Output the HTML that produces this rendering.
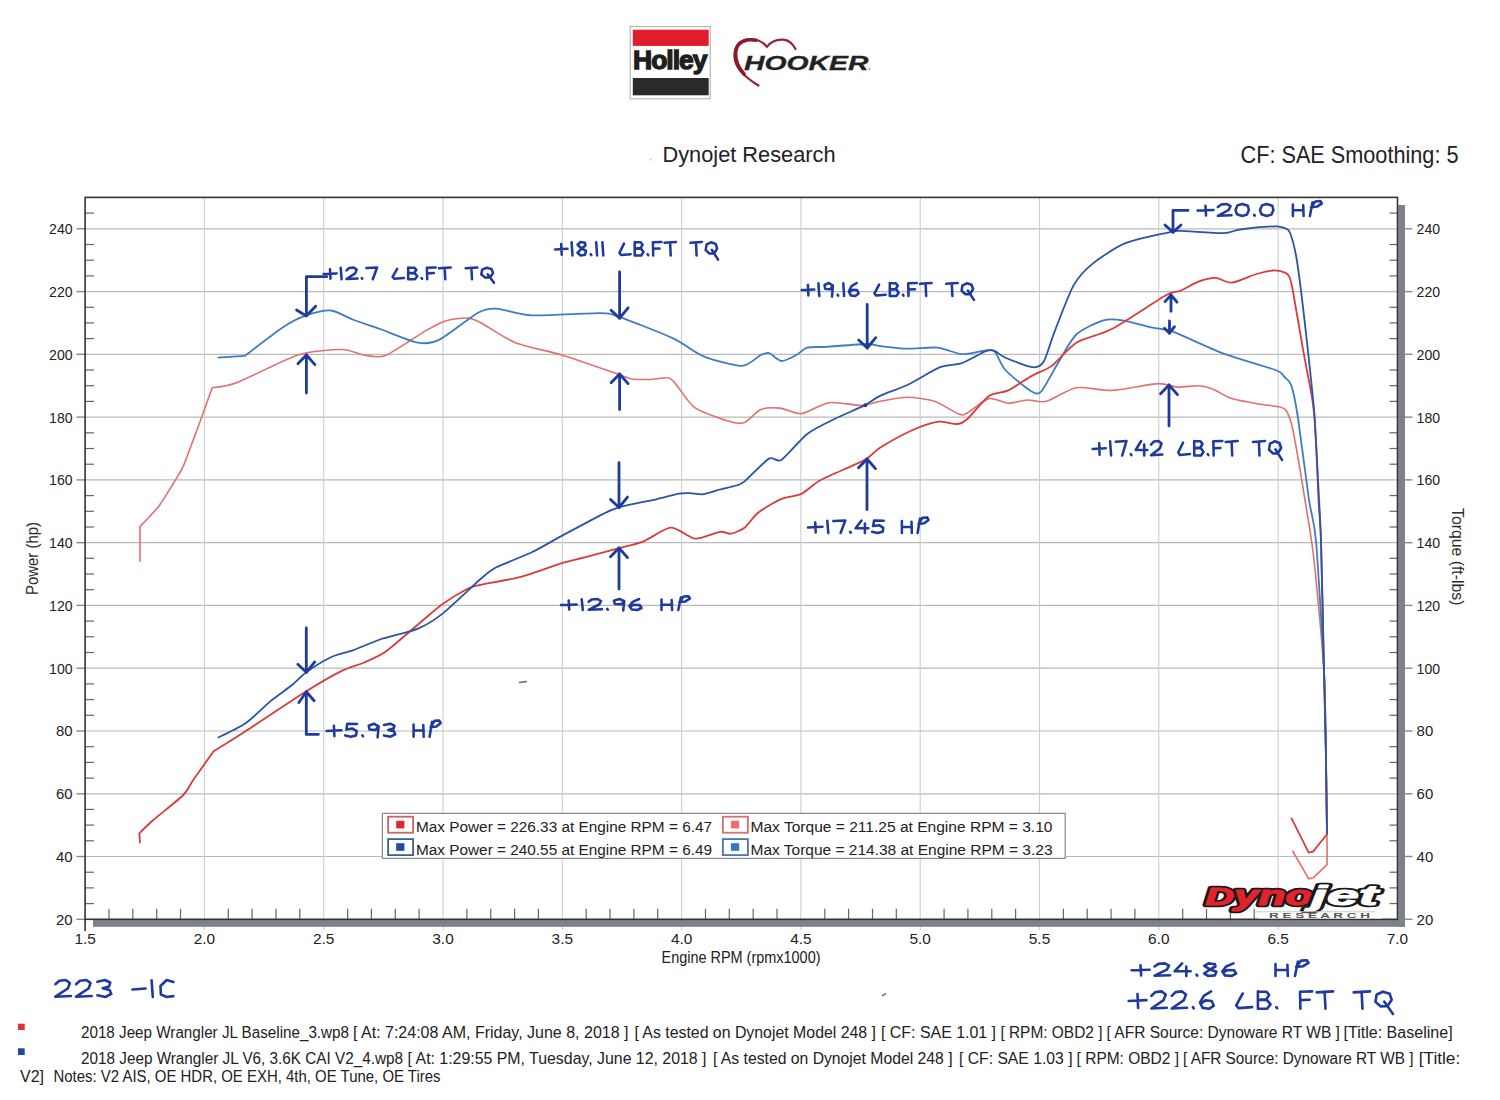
<!DOCTYPE html>
<html><head><meta charset="utf-8">
<style>
html,body{margin:0;padding:0;background:#fff;}
body{width:1500px;height:1100px;overflow:hidden;position:relative;}
svg{position:absolute;left:0;top:0;}
text{font-family:"Liberation Sans",sans-serif;}
</style></head><body>
<svg width="1500" height="1100" viewBox="0 0 1500 1100">
<rect x="630.2" y="26.5" width="80" height="72.3" fill="#fff" stroke="#b0b0b0" stroke-width="1.1"/>
<rect x="632.8" y="29.7" width="75.9" height="16.2" fill="#e11d2b"/>
<rect x="632.8" y="78" width="75.9" height="17.3" fill="#2b2929"/>
<text x="633.0" y="68.7" font-size="26.5" fill="#1e1e1e" textLength="73.5" lengthAdjust="spacingAndGlyphs" font-weight="bold" stroke="#1e1e1e" stroke-width="1.3" letter-spacing="-1">Holley</text>
<path d="M758.5,85.5 C746,78 735,68 734.5,57 C734,46 740,40 749,39.3 C757,38.8 763,42 767,46.8 C771,41.5 777,39.2 783,39.6 C789,40 793,44 795.5,49" fill="none" stroke="#a02033" stroke-width="2.2" stroke-linecap="round"/>
<path d="M744,74 C737.5,67 735.3,60 735.6,53 C736,46 740,41.5 747,40 C750,39.5 753,39.6 756,40.2" fill="none" stroke="#8d1a2a" stroke-width="3.6" stroke-linecap="round"/>
<text x="744.0" y="70.0" font-size="20" fill="#222" textLength="124.5" lengthAdjust="spacingAndGlyphs" font-weight="bold" font-style="italic" stroke="#222" stroke-width="0.3">HOOKER</text>
<circle cx="869.5" cy="69" r="0.8" fill="#555"/>
<text x="662.5" y="162.3" font-size="22.4" fill="#222" textLength="173.0" lengthAdjust="spacingAndGlyphs" >Dynojet Research</text>
<text x="1240.5" y="162.5" font-size="23.2" fill="#222" textLength="218.0" lengthAdjust="spacingAndGlyphs" >CF: SAE Smoothing: 5</text>
<circle cx="650.5" cy="159.5" r="0.9" fill="#9cc"/>
<line x1="85.1" y1="856.5" x2="1397.5" y2="856.5" stroke="#bababa" stroke-width="1.2"/>
<line x1="85.1" y1="793.8" x2="1397.5" y2="793.8" stroke="#bababa" stroke-width="1.2"/>
<line x1="85.1" y1="731.0" x2="1397.5" y2="731.0" stroke="#bababa" stroke-width="1.2"/>
<line x1="85.1" y1="668.2" x2="1397.5" y2="668.2" stroke="#bababa" stroke-width="1.2"/>
<line x1="85.1" y1="605.4" x2="1397.5" y2="605.4" stroke="#bababa" stroke-width="1.2"/>
<line x1="85.1" y1="542.7" x2="1397.5" y2="542.7" stroke="#bababa" stroke-width="1.2"/>
<line x1="85.1" y1="479.9" x2="1397.5" y2="479.9" stroke="#bababa" stroke-width="1.2"/>
<line x1="85.1" y1="417.1" x2="1397.5" y2="417.1" stroke="#bababa" stroke-width="1.2"/>
<line x1="85.1" y1="354.3" x2="1397.5" y2="354.3" stroke="#bababa" stroke-width="1.2"/>
<line x1="85.1" y1="291.6" x2="1397.5" y2="291.6" stroke="#bababa" stroke-width="1.2"/>
<line x1="85.1" y1="228.8" x2="1397.5" y2="228.8" stroke="#bababa" stroke-width="1.2"/>
<line x1="204.4" y1="197.4" x2="204.4" y2="930" stroke="#cdcdcd" stroke-width="1.1"/>
<line x1="323.7" y1="197.4" x2="323.7" y2="930" stroke="#cdcdcd" stroke-width="1.1"/>
<line x1="443.0" y1="197.4" x2="443.0" y2="930" stroke="#cdcdcd" stroke-width="1.1"/>
<line x1="562.3" y1="197.4" x2="562.3" y2="930" stroke="#cdcdcd" stroke-width="1.1"/>
<line x1="681.6" y1="197.4" x2="681.6" y2="930" stroke="#cdcdcd" stroke-width="1.1"/>
<line x1="800.9" y1="197.4" x2="800.9" y2="930" stroke="#cdcdcd" stroke-width="1.1"/>
<line x1="920.2" y1="197.4" x2="920.2" y2="930" stroke="#cdcdcd" stroke-width="1.1"/>
<line x1="1039.5" y1="197.4" x2="1039.5" y2="930" stroke="#cdcdcd" stroke-width="1.1"/>
<line x1="1158.8" y1="197.4" x2="1158.8" y2="930" stroke="#cdcdcd" stroke-width="1.1"/>
<line x1="1278.1" y1="197.4" x2="1278.1" y2="930" stroke="#cdcdcd" stroke-width="1.1"/>
<line x1="76.4" y1="919.3" x2="85.1" y2="919.3" stroke="#8a8a8a" stroke-width="1.4"/>
<line x1="1397.5" y1="919.3" x2="1412.5" y2="919.3" stroke="#8a8a8a" stroke-width="1.4"/>
<line x1="76.4" y1="856.5" x2="85.1" y2="856.5" stroke="#8a8a8a" stroke-width="1.4"/>
<line x1="1397.5" y1="856.5" x2="1412.5" y2="856.5" stroke="#8a8a8a" stroke-width="1.4"/>
<line x1="76.4" y1="793.8" x2="85.1" y2="793.8" stroke="#8a8a8a" stroke-width="1.4"/>
<line x1="1397.5" y1="793.8" x2="1412.5" y2="793.8" stroke="#8a8a8a" stroke-width="1.4"/>
<line x1="76.4" y1="731.0" x2="85.1" y2="731.0" stroke="#8a8a8a" stroke-width="1.4"/>
<line x1="1397.5" y1="731.0" x2="1412.5" y2="731.0" stroke="#8a8a8a" stroke-width="1.4"/>
<line x1="76.4" y1="668.2" x2="85.1" y2="668.2" stroke="#8a8a8a" stroke-width="1.4"/>
<line x1="1397.5" y1="668.2" x2="1412.5" y2="668.2" stroke="#8a8a8a" stroke-width="1.4"/>
<line x1="76.4" y1="605.4" x2="85.1" y2="605.4" stroke="#8a8a8a" stroke-width="1.4"/>
<line x1="1397.5" y1="605.4" x2="1412.5" y2="605.4" stroke="#8a8a8a" stroke-width="1.4"/>
<line x1="76.4" y1="542.7" x2="85.1" y2="542.7" stroke="#8a8a8a" stroke-width="1.4"/>
<line x1="1397.5" y1="542.7" x2="1412.5" y2="542.7" stroke="#8a8a8a" stroke-width="1.4"/>
<line x1="76.4" y1="479.9" x2="85.1" y2="479.9" stroke="#8a8a8a" stroke-width="1.4"/>
<line x1="1397.5" y1="479.9" x2="1412.5" y2="479.9" stroke="#8a8a8a" stroke-width="1.4"/>
<line x1="76.4" y1="417.1" x2="85.1" y2="417.1" stroke="#8a8a8a" stroke-width="1.4"/>
<line x1="1397.5" y1="417.1" x2="1412.5" y2="417.1" stroke="#8a8a8a" stroke-width="1.4"/>
<line x1="76.4" y1="354.3" x2="85.1" y2="354.3" stroke="#8a8a8a" stroke-width="1.4"/>
<line x1="1397.5" y1="354.3" x2="1412.5" y2="354.3" stroke="#8a8a8a" stroke-width="1.4"/>
<line x1="76.4" y1="291.6" x2="85.1" y2="291.6" stroke="#8a8a8a" stroke-width="1.4"/>
<line x1="1397.5" y1="291.6" x2="1412.5" y2="291.6" stroke="#8a8a8a" stroke-width="1.4"/>
<line x1="76.4" y1="228.8" x2="85.1" y2="228.8" stroke="#8a8a8a" stroke-width="1.4"/>
<line x1="1397.5" y1="228.8" x2="1412.5" y2="228.8" stroke="#8a8a8a" stroke-width="1.4"/>
<line x1="85.1" y1="903.6" x2="94" y2="903.6" stroke="#666" stroke-width="1.2"/>
<line x1="1389.5" y1="903.6" x2="1397.5" y2="903.6" stroke="#666" stroke-width="1.2"/>
<line x1="85.1" y1="887.9" x2="94" y2="887.9" stroke="#666" stroke-width="1.2"/>
<line x1="1389.5" y1="887.9" x2="1397.5" y2="887.9" stroke="#666" stroke-width="1.2"/>
<line x1="85.1" y1="872.2" x2="94" y2="872.2" stroke="#666" stroke-width="1.2"/>
<line x1="1389.5" y1="872.2" x2="1397.5" y2="872.2" stroke="#666" stroke-width="1.2"/>
<line x1="85.1" y1="840.8" x2="94" y2="840.8" stroke="#666" stroke-width="1.2"/>
<line x1="1389.5" y1="840.8" x2="1397.5" y2="840.8" stroke="#666" stroke-width="1.2"/>
<line x1="85.1" y1="825.1" x2="94" y2="825.1" stroke="#666" stroke-width="1.2"/>
<line x1="1389.5" y1="825.1" x2="1397.5" y2="825.1" stroke="#666" stroke-width="1.2"/>
<line x1="85.1" y1="809.4" x2="94" y2="809.4" stroke="#666" stroke-width="1.2"/>
<line x1="1389.5" y1="809.4" x2="1397.5" y2="809.4" stroke="#666" stroke-width="1.2"/>
<line x1="85.1" y1="778.1" x2="94" y2="778.1" stroke="#666" stroke-width="1.2"/>
<line x1="1389.5" y1="778.1" x2="1397.5" y2="778.1" stroke="#666" stroke-width="1.2"/>
<line x1="85.1" y1="762.4" x2="94" y2="762.4" stroke="#666" stroke-width="1.2"/>
<line x1="1389.5" y1="762.4" x2="1397.5" y2="762.4" stroke="#666" stroke-width="1.2"/>
<line x1="85.1" y1="746.7" x2="94" y2="746.7" stroke="#666" stroke-width="1.2"/>
<line x1="1389.5" y1="746.7" x2="1397.5" y2="746.7" stroke="#666" stroke-width="1.2"/>
<line x1="85.1" y1="715.3" x2="94" y2="715.3" stroke="#666" stroke-width="1.2"/>
<line x1="1389.5" y1="715.3" x2="1397.5" y2="715.3" stroke="#666" stroke-width="1.2"/>
<line x1="85.1" y1="699.6" x2="94" y2="699.6" stroke="#666" stroke-width="1.2"/>
<line x1="1389.5" y1="699.6" x2="1397.5" y2="699.6" stroke="#666" stroke-width="1.2"/>
<line x1="85.1" y1="683.9" x2="94" y2="683.9" stroke="#666" stroke-width="1.2"/>
<line x1="1389.5" y1="683.9" x2="1397.5" y2="683.9" stroke="#666" stroke-width="1.2"/>
<line x1="85.1" y1="652.5" x2="94" y2="652.5" stroke="#666" stroke-width="1.2"/>
<line x1="1389.5" y1="652.5" x2="1397.5" y2="652.5" stroke="#666" stroke-width="1.2"/>
<line x1="85.1" y1="636.8" x2="94" y2="636.8" stroke="#666" stroke-width="1.2"/>
<line x1="1389.5" y1="636.8" x2="1397.5" y2="636.8" stroke="#666" stroke-width="1.2"/>
<line x1="85.1" y1="621.1" x2="94" y2="621.1" stroke="#666" stroke-width="1.2"/>
<line x1="1389.5" y1="621.1" x2="1397.5" y2="621.1" stroke="#666" stroke-width="1.2"/>
<line x1="85.1" y1="589.7" x2="94" y2="589.7" stroke="#666" stroke-width="1.2"/>
<line x1="1389.5" y1="589.7" x2="1397.5" y2="589.7" stroke="#666" stroke-width="1.2"/>
<line x1="85.1" y1="574.0" x2="94" y2="574.0" stroke="#666" stroke-width="1.2"/>
<line x1="1389.5" y1="574.0" x2="1397.5" y2="574.0" stroke="#666" stroke-width="1.2"/>
<line x1="85.1" y1="558.3" x2="94" y2="558.3" stroke="#666" stroke-width="1.2"/>
<line x1="1389.5" y1="558.3" x2="1397.5" y2="558.3" stroke="#666" stroke-width="1.2"/>
<line x1="85.1" y1="527.0" x2="94" y2="527.0" stroke="#666" stroke-width="1.2"/>
<line x1="1389.5" y1="527.0" x2="1397.5" y2="527.0" stroke="#666" stroke-width="1.2"/>
<line x1="85.1" y1="511.3" x2="94" y2="511.3" stroke="#666" stroke-width="1.2"/>
<line x1="1389.5" y1="511.3" x2="1397.5" y2="511.3" stroke="#666" stroke-width="1.2"/>
<line x1="85.1" y1="495.6" x2="94" y2="495.6" stroke="#666" stroke-width="1.2"/>
<line x1="1389.5" y1="495.6" x2="1397.5" y2="495.6" stroke="#666" stroke-width="1.2"/>
<line x1="85.1" y1="464.2" x2="94" y2="464.2" stroke="#666" stroke-width="1.2"/>
<line x1="1389.5" y1="464.2" x2="1397.5" y2="464.2" stroke="#666" stroke-width="1.2"/>
<line x1="85.1" y1="448.5" x2="94" y2="448.5" stroke="#666" stroke-width="1.2"/>
<line x1="1389.5" y1="448.5" x2="1397.5" y2="448.5" stroke="#666" stroke-width="1.2"/>
<line x1="85.1" y1="432.8" x2="94" y2="432.8" stroke="#666" stroke-width="1.2"/>
<line x1="1389.5" y1="432.8" x2="1397.5" y2="432.8" stroke="#666" stroke-width="1.2"/>
<line x1="85.1" y1="401.4" x2="94" y2="401.4" stroke="#666" stroke-width="1.2"/>
<line x1="1389.5" y1="401.4" x2="1397.5" y2="401.4" stroke="#666" stroke-width="1.2"/>
<line x1="85.1" y1="385.7" x2="94" y2="385.7" stroke="#666" stroke-width="1.2"/>
<line x1="1389.5" y1="385.7" x2="1397.5" y2="385.7" stroke="#666" stroke-width="1.2"/>
<line x1="85.1" y1="370.0" x2="94" y2="370.0" stroke="#666" stroke-width="1.2"/>
<line x1="1389.5" y1="370.0" x2="1397.5" y2="370.0" stroke="#666" stroke-width="1.2"/>
<line x1="85.1" y1="338.6" x2="94" y2="338.6" stroke="#666" stroke-width="1.2"/>
<line x1="1389.5" y1="338.6" x2="1397.5" y2="338.6" stroke="#666" stroke-width="1.2"/>
<line x1="85.1" y1="322.9" x2="94" y2="322.9" stroke="#666" stroke-width="1.2"/>
<line x1="1389.5" y1="322.9" x2="1397.5" y2="322.9" stroke="#666" stroke-width="1.2"/>
<line x1="85.1" y1="307.3" x2="94" y2="307.3" stroke="#666" stroke-width="1.2"/>
<line x1="1389.5" y1="307.3" x2="1397.5" y2="307.3" stroke="#666" stroke-width="1.2"/>
<line x1="85.1" y1="275.9" x2="94" y2="275.9" stroke="#666" stroke-width="1.2"/>
<line x1="1389.5" y1="275.9" x2="1397.5" y2="275.9" stroke="#666" stroke-width="1.2"/>
<line x1="85.1" y1="260.2" x2="94" y2="260.2" stroke="#666" stroke-width="1.2"/>
<line x1="1389.5" y1="260.2" x2="1397.5" y2="260.2" stroke="#666" stroke-width="1.2"/>
<line x1="85.1" y1="244.5" x2="94" y2="244.5" stroke="#666" stroke-width="1.2"/>
<line x1="1389.5" y1="244.5" x2="1397.5" y2="244.5" stroke="#666" stroke-width="1.2"/>
<line x1="85.1" y1="213.1" x2="94" y2="213.1" stroke="#666" stroke-width="1.2"/>
<line x1="1389.5" y1="213.1" x2="1397.5" y2="213.1" stroke="#666" stroke-width="1.2"/>
<line x1="109.0" y1="908.8" x2="109.0" y2="919.3" stroke="#666" stroke-width="1.2"/>
<line x1="132.8" y1="908.8" x2="132.8" y2="919.3" stroke="#666" stroke-width="1.2"/>
<line x1="156.7" y1="908.8" x2="156.7" y2="919.3" stroke="#666" stroke-width="1.2"/>
<line x1="180.5" y1="908.8" x2="180.5" y2="919.3" stroke="#666" stroke-width="1.2"/>
<line x1="228.3" y1="908.8" x2="228.3" y2="919.3" stroke="#666" stroke-width="1.2"/>
<line x1="252.1" y1="908.8" x2="252.1" y2="919.3" stroke="#666" stroke-width="1.2"/>
<line x1="276.0" y1="908.8" x2="276.0" y2="919.3" stroke="#666" stroke-width="1.2"/>
<line x1="299.8" y1="908.8" x2="299.8" y2="919.3" stroke="#666" stroke-width="1.2"/>
<line x1="347.6" y1="908.8" x2="347.6" y2="919.3" stroke="#666" stroke-width="1.2"/>
<line x1="371.4" y1="908.8" x2="371.4" y2="919.3" stroke="#666" stroke-width="1.2"/>
<line x1="395.3" y1="908.8" x2="395.3" y2="919.3" stroke="#666" stroke-width="1.2"/>
<line x1="419.1" y1="908.8" x2="419.1" y2="919.3" stroke="#666" stroke-width="1.2"/>
<line x1="466.9" y1="908.8" x2="466.9" y2="919.3" stroke="#666" stroke-width="1.2"/>
<line x1="490.7" y1="908.8" x2="490.7" y2="919.3" stroke="#666" stroke-width="1.2"/>
<line x1="514.6" y1="908.8" x2="514.6" y2="919.3" stroke="#666" stroke-width="1.2"/>
<line x1="538.4" y1="908.8" x2="538.4" y2="919.3" stroke="#666" stroke-width="1.2"/>
<line x1="586.2" y1="908.8" x2="586.2" y2="919.3" stroke="#666" stroke-width="1.2"/>
<line x1="610.0" y1="908.8" x2="610.0" y2="919.3" stroke="#666" stroke-width="1.2"/>
<line x1="633.9" y1="908.8" x2="633.9" y2="919.3" stroke="#666" stroke-width="1.2"/>
<line x1="657.7" y1="908.8" x2="657.7" y2="919.3" stroke="#666" stroke-width="1.2"/>
<line x1="705.5" y1="908.8" x2="705.5" y2="919.3" stroke="#666" stroke-width="1.2"/>
<line x1="729.3" y1="908.8" x2="729.3" y2="919.3" stroke="#666" stroke-width="1.2"/>
<line x1="753.2" y1="908.8" x2="753.2" y2="919.3" stroke="#666" stroke-width="1.2"/>
<line x1="777.0" y1="908.8" x2="777.0" y2="919.3" stroke="#666" stroke-width="1.2"/>
<line x1="824.8" y1="908.8" x2="824.8" y2="919.3" stroke="#666" stroke-width="1.2"/>
<line x1="848.6" y1="908.8" x2="848.6" y2="919.3" stroke="#666" stroke-width="1.2"/>
<line x1="872.5" y1="908.8" x2="872.5" y2="919.3" stroke="#666" stroke-width="1.2"/>
<line x1="896.3" y1="908.8" x2="896.3" y2="919.3" stroke="#666" stroke-width="1.2"/>
<line x1="944.1" y1="908.8" x2="944.1" y2="919.3" stroke="#666" stroke-width="1.2"/>
<line x1="967.9" y1="908.8" x2="967.9" y2="919.3" stroke="#666" stroke-width="1.2"/>
<line x1="991.8" y1="908.8" x2="991.8" y2="919.3" stroke="#666" stroke-width="1.2"/>
<line x1="1015.6" y1="908.8" x2="1015.6" y2="919.3" stroke="#666" stroke-width="1.2"/>
<line x1="1063.4" y1="908.8" x2="1063.4" y2="919.3" stroke="#666" stroke-width="1.2"/>
<line x1="1087.2" y1="908.8" x2="1087.2" y2="919.3" stroke="#666" stroke-width="1.2"/>
<line x1="1111.1" y1="908.8" x2="1111.1" y2="919.3" stroke="#666" stroke-width="1.2"/>
<line x1="1134.9" y1="908.8" x2="1134.9" y2="919.3" stroke="#666" stroke-width="1.2"/>
<line x1="1182.7" y1="908.8" x2="1182.7" y2="919.3" stroke="#666" stroke-width="1.2"/>
<line x1="1206.5" y1="908.8" x2="1206.5" y2="919.3" stroke="#666" stroke-width="1.2"/>
<line x1="1230.4" y1="908.8" x2="1230.4" y2="919.3" stroke="#666" stroke-width="1.2"/>
<line x1="1254.2" y1="908.8" x2="1254.2" y2="919.3" stroke="#666" stroke-width="1.2"/>
<line x1="1302.0" y1="908.8" x2="1302.0" y2="919.3" stroke="#666" stroke-width="1.2"/>
<line x1="1325.8" y1="908.8" x2="1325.8" y2="919.3" stroke="#666" stroke-width="1.2"/>
<line x1="1349.7" y1="908.8" x2="1349.7" y2="919.3" stroke="#666" stroke-width="1.2"/>
<line x1="1373.5" y1="908.8" x2="1373.5" y2="919.3" stroke="#666" stroke-width="1.2"/>
<rect x="93" y="920" width="1312" height="6.8" fill="#7c818b"/>
<rect x="1398.2" y="205" width="6.8" height="721.8" fill="#7c818b"/>
<rect x="85.1" y="197.4" width="1312.4" height="721.9" fill="none" stroke="#333" stroke-width="1.6"/>
<line x1="85.1" y1="919.3" x2="85.1" y2="931" stroke="#333" stroke-width="1.6"/>
<text x="56.0" y="924.7" font-size="15.4" fill="#222" textLength="16.6" lengthAdjust="spacingAndGlyphs" >20</text>
<text x="1416.6" y="924.7" font-size="15.4" fill="#222" textLength="16.6" lengthAdjust="spacingAndGlyphs" >20</text>
<text x="56.0" y="861.9" font-size="15.4" fill="#222" textLength="16.6" lengthAdjust="spacingAndGlyphs" >40</text>
<text x="1416.6" y="861.9" font-size="15.4" fill="#222" textLength="16.6" lengthAdjust="spacingAndGlyphs" >40</text>
<text x="56.0" y="799.2" font-size="15.4" fill="#222" textLength="16.6" lengthAdjust="spacingAndGlyphs" >60</text>
<text x="1416.6" y="799.2" font-size="15.4" fill="#222" textLength="16.6" lengthAdjust="spacingAndGlyphs" >60</text>
<text x="56.0" y="736.4" font-size="15.4" fill="#222" textLength="16.6" lengthAdjust="spacingAndGlyphs" >80</text>
<text x="1416.6" y="736.4" font-size="15.4" fill="#222" textLength="16.6" lengthAdjust="spacingAndGlyphs" >80</text>
<text x="49.1" y="673.6" font-size="15.4" fill="#222" textLength="23.5" lengthAdjust="spacingAndGlyphs" >100</text>
<text x="1416.6" y="673.6" font-size="15.4" fill="#222" textLength="23.5" lengthAdjust="spacingAndGlyphs" >100</text>
<text x="49.1" y="610.8" font-size="15.4" fill="#222" textLength="23.5" lengthAdjust="spacingAndGlyphs" >120</text>
<text x="1416.6" y="610.8" font-size="15.4" fill="#222" textLength="23.5" lengthAdjust="spacingAndGlyphs" >120</text>
<text x="49.1" y="548.1" font-size="15.4" fill="#222" textLength="23.5" lengthAdjust="spacingAndGlyphs" >140</text>
<text x="1416.6" y="548.1" font-size="15.4" fill="#222" textLength="23.5" lengthAdjust="spacingAndGlyphs" >140</text>
<text x="49.1" y="485.3" font-size="15.4" fill="#222" textLength="23.5" lengthAdjust="spacingAndGlyphs" >160</text>
<text x="1416.6" y="485.3" font-size="15.4" fill="#222" textLength="23.5" lengthAdjust="spacingAndGlyphs" >160</text>
<text x="49.1" y="422.5" font-size="15.4" fill="#222" textLength="23.5" lengthAdjust="spacingAndGlyphs" >180</text>
<text x="1416.6" y="422.5" font-size="15.4" fill="#222" textLength="23.5" lengthAdjust="spacingAndGlyphs" >180</text>
<text x="49.1" y="359.7" font-size="15.4" fill="#222" textLength="23.5" lengthAdjust="spacingAndGlyphs" >200</text>
<text x="1416.6" y="359.7" font-size="15.4" fill="#222" textLength="23.5" lengthAdjust="spacingAndGlyphs" >200</text>
<text x="49.1" y="297.0" font-size="15.4" fill="#222" textLength="23.5" lengthAdjust="spacingAndGlyphs" >220</text>
<text x="1416.6" y="297.0" font-size="15.4" fill="#222" textLength="23.5" lengthAdjust="spacingAndGlyphs" >220</text>
<text x="49.1" y="234.2" font-size="15.4" fill="#222" textLength="23.5" lengthAdjust="spacingAndGlyphs" >240</text>
<text x="1416.6" y="234.2" font-size="15.4" fill="#222" textLength="23.5" lengthAdjust="spacingAndGlyphs" >240</text>
<text x="85.1" y="944.3" font-size="15.4" fill="#222" text-anchor="middle" >1.5</text>
<text x="204.4" y="944.3" font-size="15.4" fill="#222" text-anchor="middle" >2.0</text>
<text x="323.7" y="944.3" font-size="15.4" fill="#222" text-anchor="middle" >2.5</text>
<text x="443.0" y="944.3" font-size="15.4" fill="#222" text-anchor="middle" >3.0</text>
<text x="562.3" y="944.3" font-size="15.4" fill="#222" text-anchor="middle" >3.5</text>
<text x="681.6" y="944.3" font-size="15.4" fill="#222" text-anchor="middle" >4.0</text>
<text x="800.9" y="944.3" font-size="15.4" fill="#222" text-anchor="middle" >4.5</text>
<text x="920.2" y="944.3" font-size="15.4" fill="#222" text-anchor="middle" >5.0</text>
<text x="1039.5" y="944.3" font-size="15.4" fill="#222" text-anchor="middle" >5.5</text>
<text x="1158.8" y="944.3" font-size="15.4" fill="#222" text-anchor="middle" >6.0</text>
<text x="1278.1" y="944.3" font-size="15.4" fill="#222" text-anchor="middle" >6.5</text>
<text x="1397.4" y="944.3" font-size="15.4" fill="#222" text-anchor="middle" >7.0</text>
<text x="661.5" y="963.2" font-size="15.7" fill="#222" textLength="159.0" lengthAdjust="spacingAndGlyphs" >Engine RPM (rpmx1000)</text>
<text transform="translate(37.7,595) rotate(-90)" x="0" y="0" font-size="16.4" fill="#2b2b2b" textLength="73" lengthAdjust="spacingAndGlyphs">Power (hp)</text>
<text transform="translate(1452,508) rotate(90)" x="0" y="0" font-size="16.4" fill="#2b2b2b" textLength="97.5" lengthAdjust="spacingAndGlyphs">Torque (ft-lbs)</text>
<path d="M140.0,561.8 C140.0,561.8 140.0,526.4 140.0,526.4 C140.0,526.4 154.5,511.8 159.0,505.9 C163.5,500.0 172.3,485.1 175.4,480.0 C178.5,474.9 180.5,472.8 183.6,465.4 C186.7,458.0 196.4,431.6 200.0,421.8 C203.6,412.0 212.2,387.7 212.2,387.7 C212.2,387.7 227.1,386.3 238.0,382.2 C248.9,378.1 284.9,359.1 298.0,355.0 C311.1,350.9 333.5,349.5 341.8,349.5 C350.1,349.5 358.1,354.2 363.6,355.0 C369.1,355.8 377.5,358.6 385.4,355.5 C393.3,352.4 418.7,334.8 426.3,330.4 C433.9,326.0 440.2,322.5 445.4,320.9 C450.6,319.3 462.6,317.8 467.0,318.0 C471.4,318.2 473.9,319.1 480.0,322.2 C486.1,325.3 505.0,338.5 515.4,342.7 C525.8,346.9 548.3,350.9 561.8,355.0 C575.3,359.1 612.9,372.4 621.8,375.4 C630.7,378.4 628.4,378.5 632.0,379.0 C635.6,379.5 645.3,379.6 650.0,379.5 C654.7,379.4 665.5,377.1 669.0,378.0 C672.5,378.9 674.7,383.2 678.0,387.0 C681.3,390.8 688.7,403.7 695.4,408.1 C702.1,412.5 724.6,420.0 730.8,421.8 C737.0,423.6 740.7,424.2 744.5,422.6 C748.3,421.0 756.3,411.3 760.8,409.5 C765.3,407.7 774.8,407.6 780.0,408.1 C785.2,408.6 795.5,414.3 801.7,413.6 C807.9,412.9 821.4,403.7 829.0,402.7 C836.6,401.7 855.2,405.6 861.7,405.4 C868.2,405.2 874.2,402.3 880.0,401.3 C885.8,400.3 900.4,397.2 907.3,397.2 C914.2,397.2 928.0,399.2 934.5,401.3 C941.0,403.4 954.8,412.6 959.0,414.1 C963.2,415.6 963.5,415.0 967.3,413.0 C971.1,411.0 983.8,399.8 989.0,398.6 C994.2,397.4 1003.4,403.0 1008.2,403.2 C1013.0,403.4 1022.4,400.2 1027.2,400.0 C1032.0,399.8 1040.1,402.9 1046.3,401.3 C1052.5,399.7 1068.0,389.1 1076.3,387.7 C1084.6,386.3 1101.4,390.9 1111.8,390.4 C1122.2,389.9 1149.8,384.0 1158.1,383.6 C1166.4,383.2 1172.0,386.8 1177.2,387.1 C1182.4,387.4 1194.5,385.6 1199.0,385.8 C1203.5,386.0 1208.5,387.4 1212.6,389.0 C1216.7,390.6 1225.8,396.7 1231.7,398.6 C1237.6,400.5 1253.1,403.0 1259.0,404.0 C1264.9,405.0 1274.8,406.0 1278.2,406.8 C1281.6,407.6 1284.1,407.2 1285.9,410.0 C1287.7,412.8 1290.3,417.6 1292.7,429.0 C1295.1,440.4 1302.3,483.4 1305.0,500.0 C1307.7,516.6 1311.6,538.3 1314.0,560.0 C1316.4,581.7 1322.5,647.3 1324.0,671.0 C1325.5,694.7 1325.4,726.2 1325.8,747.0 C1326.2,767.8 1326.8,820.1 1327.0,835.0 C1327.2,849.9 1327.0,864.7 1327.0,864.7 C1327.0,864.7 1313.1,877.8 1313.1,877.8 C1313.1,877.8 1308.7,878.9 1308.7,878.9 C1308.7,878.9 1292.4,850.5 1292.4,850.5" fill="none" stroke="#e2706f" stroke-width="1.6" stroke-linejoin="round"/>
<path d="M217.7,357.7 C217.7,357.7 245.0,355.8 245.0,355.8 C245.0,355.8 276.7,331.4 284.5,326.3 C292.3,321.2 300.4,317.4 306.3,315.4 C312.2,313.4 325.0,310.0 330.9,310.5 C336.8,311.0 346.5,317.2 352.7,319.5 C358.9,321.8 371.7,326.1 380.0,329.0 C388.3,331.9 410.4,341.4 418.0,342.7 C425.6,344.0 432.4,343.2 440.0,339.4 C447.6,335.6 470.9,316.6 478.0,312.7 C485.1,308.8 489.6,308.3 496.4,308.6 C503.2,308.9 518.7,314.8 531.8,315.4 C544.9,316.0 589.0,313.0 600.0,313.2 C611.0,313.4 609.7,313.6 619.0,316.8 C628.3,320.0 662.9,333.6 673.6,338.6 C684.3,343.6 695.0,352.8 703.6,356.3 C712.2,359.8 734.6,366.1 741.8,365.9 C749.0,365.7 757.4,356.6 760.8,355.0 C764.2,353.4 766.4,352.2 769.0,353.0 C771.6,353.8 777.8,360.7 781.3,361.0 C784.8,361.3 793.0,356.7 796.3,355.0 C799.6,353.3 803.4,348.6 807.2,347.6 C811.0,346.6 818.7,347.3 826.3,346.8 C833.9,346.3 860.4,344.1 867.2,344.0 C874.0,343.9 874.9,345.4 880.0,346.0 C885.1,346.6 900.0,348.5 907.3,348.7 C914.6,348.9 930.4,346.9 937.3,347.6 C944.2,348.3 955.9,353.7 961.8,354.1 C967.7,354.5 979.5,351.2 983.6,350.9 C987.7,350.6 991.7,349.0 994.5,351.4 C997.3,353.8 1000.9,365.1 1005.4,370.0 C1009.9,374.9 1025.5,387.6 1030.0,390.4 C1034.5,393.2 1037.5,395.1 1040.9,391.8 C1044.3,388.5 1052.7,371.8 1057.2,364.5 C1061.7,357.2 1070.4,340.1 1076.3,334.5 C1082.2,328.9 1097.7,322.1 1103.6,320.3 C1109.5,318.5 1116.5,319.4 1122.7,320.3 C1128.9,321.2 1146.5,326.3 1152.7,327.7 C1158.9,329.1 1162.7,327.9 1171.7,331.2 C1180.7,334.5 1210.5,348.7 1223.6,353.6 C1236.7,358.5 1267.8,367.0 1275.5,370.0 C1283.2,373.0 1282.5,375.0 1284.5,377.0 C1286.5,379.0 1289.6,380.2 1291.3,385.4 C1293.0,390.6 1295.8,403.5 1298.0,418.0 C1300.2,432.5 1306.7,484.4 1309.0,500.0 C1311.3,515.6 1314.1,519.3 1316.0,541.0 C1317.9,562.7 1322.8,644.9 1324.0,671.0 C1325.2,697.1 1325.8,747.0 1325.8,747.0 C1325.8,747.0 1327.0,834.0 1327.0,834.0" fill="none" stroke="#3f7cc0" stroke-width="1.8" stroke-linejoin="round"/>
<path d="M140.0,843.3 C140.0,843.3 139.3,833.3 139.3,833.3 C139.3,833.3 147.7,824.9 153.3,820.0 C158.9,815.1 178.2,800.1 183.3,795.0 C188.4,789.9 189.4,785.5 193.2,780.0 C197.0,774.5 213.6,751.3 213.6,751.3 C213.6,751.3 234.6,738.4 246.3,730.8 C258.0,723.2 294.2,698.9 306.3,691.3 C318.4,683.7 334.5,674.5 341.8,670.9 C349.1,667.3 358.1,665.1 363.6,662.7 C369.1,660.3 378.5,656.6 385.4,651.8 C392.3,647.0 410.8,630.5 418.0,624.5 C425.2,618.5 436.4,608.6 442.6,604.1 C448.8,599.6 462.5,591.4 467.2,589.0 C471.9,586.6 473.2,586.5 480.0,585.0 C486.8,583.5 510.5,579.6 520.9,576.8 C531.3,574.0 553.9,565.6 561.8,563.2 C569.7,560.8 576.4,559.6 583.6,557.7 C590.8,555.8 611.4,550.3 619.0,548.2 C626.6,546.1 637.0,543.9 643.6,541.3 C650.2,538.7 664.3,528.0 670.9,527.7 C677.5,527.4 689.2,538.1 695.4,538.6 C701.6,539.1 715.5,532.4 720.0,531.8 C724.5,531.2 727.7,534.2 730.8,533.7 C733.9,533.2 741.0,530.4 744.5,527.7 C748.0,525.0 753.6,516.3 758.1,512.7 C762.6,509.1 774.5,502.0 780.0,499.6 C785.5,497.2 796.5,496.1 801.7,493.6 C806.9,491.1 812.8,484.3 820.8,480.0 C828.8,475.7 857.0,464.1 864.5,460.0 C872.0,455.9 873.9,451.5 880.0,447.7 C886.1,443.9 905.4,433.3 912.7,430.0 C920.0,426.7 931.6,422.6 937.3,421.8 C943.0,421.0 953.9,424.4 957.7,424.0 C961.5,423.6 963.3,422.6 967.3,419.0 C971.3,415.4 983.8,399.5 989.0,395.9 C994.2,392.3 1002.7,393.0 1008.2,390.4 C1013.7,387.8 1027.2,378.5 1032.7,375.4 C1038.2,372.3 1046.3,370.0 1051.8,365.9 C1057.3,361.8 1068.7,347.4 1076.3,342.7 C1083.9,338.0 1100.4,335.0 1111.8,329.0 C1123.2,323.0 1157.7,299.8 1166.3,295.0 C1174.9,290.2 1175.9,292.6 1180.0,290.9 C1184.1,289.2 1194.5,283.1 1199.0,281.4 C1203.5,279.7 1211.3,277.6 1215.5,277.8 C1219.7,278.0 1226.6,283.2 1231.8,282.7 C1237.0,282.2 1251.2,275.5 1256.4,274.0 C1261.6,272.5 1269.1,270.7 1272.7,270.5 C1276.3,270.3 1282.9,271.8 1285.0,272.6 C1287.1,273.4 1288.5,274.8 1289.5,277.0 C1290.5,279.2 1290.9,280.4 1292.7,290.0 C1294.5,299.6 1301.2,339.3 1303.6,352.7 C1306.0,366.1 1310.4,387.7 1311.8,396.0 C1313.2,404.3 1313.8,408.6 1314.5,418.0 C1315.2,427.4 1316.7,454.4 1317.5,470.0 C1318.3,485.6 1320.2,515.5 1321.0,541.0 C1321.8,566.5 1323.4,644.9 1324.0,671.0 C1324.6,697.1 1325.4,726.3 1325.8,747.0 C1326.2,767.7 1327.0,834.2 1327.0,834.2 C1327.0,834.2 1313.0,851.6 1313.0,851.6 C1313.0,851.6 1308.7,852.7 1308.7,852.7 C1308.7,852.7 1291.3,817.8 1291.3,817.8" fill="none" stroke="#d83c3c" stroke-width="1.8" stroke-linejoin="round"/>
<path d="M217.7,737.7 C217.7,737.7 239.6,727.4 246.3,722.7 C253.0,718.0 265.0,705.7 270.9,700.9 C276.8,696.1 288.2,688.1 292.7,684.5 C297.2,680.9 301.5,675.7 306.3,672.2 C311.1,668.7 325.0,660.0 330.9,657.2 C336.8,654.4 346.5,652.6 352.7,650.4 C358.9,648.2 371.7,642.3 380.0,639.5 C388.3,636.7 410.1,631.9 418.0,628.6 C425.9,625.3 434.7,619.8 442.6,613.6 C450.5,607.4 473.2,585.4 480.0,579.5 C486.8,573.6 489.8,570.7 496.4,567.3 C503.0,563.9 523.5,556.3 531.8,552.3 C540.1,548.3 552.8,540.7 561.8,535.9 C570.8,531.1 595.5,517.7 602.7,514.1 C609.9,510.5 612.1,509.2 619.0,507.3 C625.9,505.4 649.6,500.8 657.2,499.1 C664.8,497.4 674.8,494.4 679.0,493.6 C683.2,492.8 686.9,493.0 690.0,493.1 C693.1,493.2 699.8,494.7 703.6,494.2 C707.4,493.7 715.9,490.6 720.0,489.5 C724.1,488.4 733.2,486.5 736.3,485.5 C739.4,484.5 740.4,484.8 744.5,481.4 C748.6,478.0 764.3,461.3 769.0,458.6 C773.7,455.9 776.5,463.1 781.3,460.0 C786.1,456.9 800.5,439.2 807.2,434.0 C813.9,428.8 827.2,422.6 834.5,419.0 C841.8,415.4 858.7,408.3 864.5,405.4 C870.3,402.5 874.6,398.5 880.0,395.9 C885.4,393.3 899.7,388.6 907.3,385.0 C914.9,381.4 933.1,370.0 940.0,367.2 C946.9,364.4 955.9,365.2 961.8,363.1 C967.7,361.0 982.2,352.4 986.3,350.9 C990.4,349.4 992.1,350.0 994.5,350.9 C996.9,351.8 1000.6,355.6 1005.4,357.7 C1010.2,359.8 1027.9,366.7 1032.7,367.2 C1037.5,367.7 1040.8,366.3 1043.6,361.8 C1046.4,357.3 1050.7,341.5 1054.5,331.8 C1058.3,322.1 1068.8,294.0 1073.6,285.4 C1078.4,276.8 1086.1,268.9 1092.7,263.6 C1099.3,258.3 1115.7,247.2 1125.4,243.2 C1135.1,239.2 1162.1,233.9 1169.0,232.3 C1175.9,230.7 1173.1,230.8 1180.0,230.9 C1186.9,231.0 1216.0,233.3 1223.6,233.1 C1231.2,232.9 1233.4,230.4 1240.0,229.5 C1246.6,228.6 1269.8,226.5 1275.5,226.3 C1281.2,226.1 1283.2,227.4 1285.0,228.2 C1286.8,229.0 1288.5,228.7 1290.0,232.7 C1291.5,236.7 1294.7,246.9 1296.8,260.0 C1298.9,273.1 1304.1,316.3 1306.3,336.0 C1308.5,355.7 1312.9,394.7 1314.5,415.5 C1316.1,436.3 1317.8,484.1 1318.6,500.0 C1319.4,515.9 1320.3,519.3 1321.0,541.0 C1321.7,562.7 1323.4,644.9 1324.0,671.0 C1324.6,697.1 1325.8,747.0 1325.8,747.0 C1325.8,747.0 1327.0,834.0 1327.0,834.0" fill="none" stroke="#2a55a5" stroke-width="1.8" stroke-linejoin="round"/>
<rect x="382.4" y="813.4" width="682.8" height="45" fill="#fff" stroke="#8a8a8a" stroke-width="1.2"/>
<rect x="388.1" y="816.7" width="25" height="16" fill="#fff" stroke="#c96565" stroke-width="1.8"/>
<rect x="396.2" y="820.8" width="8.2" height="7.6" fill="#e02a2a"/>
<rect x="388.1" y="839.1" width="25" height="16" fill="#fff" stroke="#3d5f95" stroke-width="1.8"/>
<rect x="396.2" y="843.2" width="8.2" height="7.6" fill="#1f4aa8"/>
<rect x="722.9" y="816.7" width="25" height="16" fill="#fff" stroke="#d47070" stroke-width="1.8"/>
<rect x="731.0" y="820.8" width="8.2" height="7.6" fill="#ef6a6a"/>
<rect x="722.9" y="839.1" width="25" height="16" fill="#fff" stroke="#4a76b5" stroke-width="1.8"/>
<rect x="731.0" y="843.2" width="8.2" height="7.6" fill="#3476c8"/>
<text x="416.0" y="831.8" font-size="15.4" fill="#222" textLength="296.0" lengthAdjust="spacingAndGlyphs" >Max Power = 226.33 at Engine RPM = 6.47</text>
<text x="416.0" y="855.2" font-size="15.4" fill="#222" textLength="296.0" lengthAdjust="spacingAndGlyphs" >Max Power = 240.55 at Engine RPM = 6.49</text>
<text x="750.5" y="831.8" font-size="15.4" fill="#222" textLength="302.0" lengthAdjust="spacingAndGlyphs" >Max Torque = 211.25 at Engine RPM = 3.10</text>
<text x="750.5" y="855.2" font-size="15.4" fill="#222" textLength="302.0" lengthAdjust="spacingAndGlyphs" >Max Torque = 214.38 at Engine RPM = 3.23</text>
<rect x="1258" y="903" width="124" height="15.5" fill="#fff"/>
<text x="1205.5" y="905" font-weight="bold" font-style="italic" fill="#1a1a1a" stroke="#1a1a1a" stroke-width="4.6" stroke-linejoin="round" textLength="107" lengthAdjust="spacingAndGlyphs"><tspan font-size="24">D</tspan><tspan font-size="27">yno</tspan></text>
<text x="1205.5" y="905" font-weight="bold" font-style="italic" fill="#e3232b" stroke="#e3232b" stroke-width="1.2" stroke-linejoin="round" textLength="107" lengthAdjust="spacingAndGlyphs"><tspan font-size="24">D</tspan><tspan font-size="27">yno</tspan></text>
<text x="1311" y="905" font-weight="bold" font-style="italic" fill="#1a1a1a" stroke="#1a1a1a" stroke-width="4.6" stroke-linejoin="round" textLength="67" lengthAdjust="spacingAndGlyphs" font-size="27">jet</text>
<text x="1311" y="905" font-weight="bold" font-style="italic" fill="#fff" stroke="#fff" stroke-width="1.0" stroke-linejoin="round" textLength="67" lengthAdjust="spacingAndGlyphs" font-size="27">jet</text>
<line x1="1256" y1="911.8" x2="1375" y2="911.8" stroke="#c8c8c8" stroke-width="1"/>
<text x="1269.0" y="918.2" font-size="6.5" fill="#555" textLength="101.0" lengthAdjust="spacingAndGlyphs" font-weight="bold">R E S E A R C H</text>
<rect x="18" y="1023.7" width="6.7" height="6.3" fill="#e03030"/>
<rect x="18" y="1048.3" width="6.7" height="6.7" fill="#2048a0"/>
<text x="81.0" y="1038.3" font-size="16" fill="#222" textLength="268.0" lengthAdjust="spacingAndGlyphs" >2018 Jeep Wrangler JL Baseline_3.wp8</text>
<text x="353.0" y="1038.3" font-size="16" fill="#222" textLength="275.5" lengthAdjust="spacingAndGlyphs" >[ At: 7:24:08 AM, Friday, June 8, 2018 ]</text>
<text x="634.4" y="1038.3" font-size="16" fill="#222" textLength="241.6" lengthAdjust="spacingAndGlyphs" >[ As tested on Dynojet Model 248 ]</text>
<text x="881.0" y="1038.3" font-size="16" fill="#222" textLength="115.0" lengthAdjust="spacingAndGlyphs" >[ CF: SAE 1.01 ]</text>
<text x="1000.4" y="1038.3" font-size="16" fill="#222" textLength="102.1" lengthAdjust="spacingAndGlyphs" >[ RPM: OBD2 ]</text>
<text x="1106.6" y="1038.3" font-size="16" fill="#222" textLength="233.3" lengthAdjust="spacingAndGlyphs" >[ AFR Source: Dynoware RT WB ]</text>
<text x="1343.5" y="1038.3" font-size="16" fill="#222" textLength="109.1" lengthAdjust="spacingAndGlyphs" >[Title: Baseline]</text>
<text x="81.0" y="1063.7" font-size="16" fill="#222" textLength="322.0" lengthAdjust="spacingAndGlyphs" >2018 Jeep Wrangler JL V6, 3.6K CAI V2_4.wp8</text>
<text x="407.6" y="1063.7" font-size="16" fill="#222" textLength="298.9" lengthAdjust="spacingAndGlyphs" >[ At: 1:29:55 PM, Tuesday, June 12, 2018 ]</text>
<text x="713.0" y="1063.7" font-size="16" fill="#222" textLength="239.5" lengthAdjust="spacingAndGlyphs" >[ As tested on Dynojet Model 248 ]</text>
<text x="959.0" y="1063.7" font-size="16" fill="#222" textLength="113.5" lengthAdjust="spacingAndGlyphs" >[ CF: SAE 1.03 ]</text>
<text x="1076.6" y="1063.7" font-size="16" fill="#222" textLength="102.4" lengthAdjust="spacingAndGlyphs" >[ RPM: OBD2 ]</text>
<text x="1183.0" y="1063.7" font-size="16" fill="#222" textLength="230.4" lengthAdjust="spacingAndGlyphs" >[ AFR Source: Dynoware RT WB ]</text>
<text x="1418.7" y="1063.7" font-size="16" fill="#222" textLength="41.6" lengthAdjust="spacingAndGlyphs" >[Title:</text>
<text x="20.0" y="1081.7" font-size="16" fill="#222" textLength="24.0" lengthAdjust="spacingAndGlyphs" >V2]</text>
<text x="53.5" y="1081.7" font-size="16" fill="#222" textLength="387.0" lengthAdjust="spacingAndGlyphs" >Notes: V2 AIS, OE HDR, OE EXH, 4th, OE Tune, OE Tires</text>
<circle cx="865.3" cy="405.3" r="2" fill="#1d3a9c"/>
<path d="M519,682.5 L527,681.5" stroke="#666" stroke-width="1.3"/>
<path d="M882,996 L886,993.5" stroke="#777" stroke-width="1.5"/>
<path d="M323.7,273.9 L336.5,273.4 M330.0,269.3 L330.5,278.6 M340.7,267.7 L341.6,279.2 M346.5,270.4 L349.2,268.0 L353.7,267.5 L356.7,269.6 L355.2,273.4 L346.5,279.0 L357.5,278.5 M361.7,278.0 L362.3,278.8 M366.5,268.1 L377.1,267.5 L372.8,279.2 M397.2,268.9 L392.6,276.9 L394.2,278.7 L404.0,278.0 M408.2,267.5 L408.2,279.2 M408.2,267.7 L414.3,267.7 L416.4,269.8 L414.3,272.8 L408.2,273.1 M408.2,273.1 L414.9,273.4 L417.3,276.3 L414.9,279.2 L408.2,279.2 M421.5,278.0 L422.1,278.8 M427.2,279.2 L426.9,267.7 L435.7,267.5 M427.1,273.4 L433.9,273.1 M439.0,268.2 L450.7,267.5 M444.7,267.9 L445.3,279.2 M465.7,268.2 L477.4,267.5 M471.4,267.9 L472.0,279.2 M486.8,267.7 L491.6,269.1 L493.1,273.1 L490.1,277.3 L485.3,277.6 L481.3,274.5 L482.2,269.6 L486.8,267.7 M487.7,274.3 L494.0,282.7" fill="none" stroke="#1d3a9c" stroke-width="2.55" stroke-linecap="round" stroke-linejoin="round"/>
<path d="M555.1,249.4 L567.5,248.8 M561.2,244.0 L561.7,254.8 M571.6,242.3 L572.5,255.5 M585.0,242.8 L580.6,242.0 L577.6,244.7 L581.3,248.2 L586.0,250.9 L585.0,254.8 L580.6,255.5 L577.5,252.8 L581.3,248.8 L585.4,245.4 L585.0,242.8 M590.7,254.2 L591.3,255.1 M596.2,242.3 L597.1,255.5 M602.4,242.3 L603.3,255.5 M624.0,243.6 L619.5,252.8 L621.1,255.0 L630.6,254.2 M634.7,242.0 L634.7,255.5 M634.7,242.3 L640.6,242.3 L642.6,244.7 L640.6,248.1 L634.7,248.5 M634.7,248.5 L641.2,248.8 L643.5,252.1 L641.2,255.5 L634.7,255.5 M647.6,254.2 L648.2,255.1 M653.2,255.5 L652.9,242.3 L661.4,242.0 M653.0,248.8 L659.6,248.5 M664.6,242.8 L676.0,242.0 M670.1,242.4 L670.7,255.5 M690.5,242.8 L701.9,242.0 M696.0,242.4 L696.6,255.5 M711.0,242.3 L715.7,243.9 L717.1,248.5 L714.2,253.3 L709.5,253.6 L705.7,250.1 L706.6,244.4 L711.0,242.3 M711.9,249.8 L718.0,259.6" fill="none" stroke="#1d3a9c" stroke-width="2.55" stroke-linecap="round" stroke-linejoin="round"/>
<path d="M801.7,290.1 L814.3,289.5 M807.9,284.9 L808.4,295.4 M818.4,283.3 L819.3,296.0 M832.9,285.6 L828.9,283.0 L824.5,284.9 L825.2,288.9 L830.4,289.2 L832.9,285.6 L832.0,296.6 M837.6,294.7 L838.2,295.6 M843.3,283.3 L844.1,296.0 M856.7,283.0 L851.5,286.2 L848.9,291.4 L850.8,295.4 L855.2,296.0 L858.6,293.7 L857.2,290.1 L852.7,289.8 L849.3,292.1 M879.1,284.6 L874.5,293.4 L876.1,295.5 L885.7,294.7 M889.8,283.0 L889.8,296.0 M889.8,283.3 L895.8,283.3 L897.8,285.6 L895.8,288.9 L889.8,289.2 M889.8,289.2 L896.4,289.5 L898.7,292.8 L896.4,296.0 L889.8,296.0 M902.9,294.7 L903.5,295.6 M908.5,296.0 L908.2,283.3 L916.8,283.0 M908.3,289.5 L915.0,289.2 M920.0,283.8 L931.6,283.0 M925.6,283.4 L926.2,296.0 M946.2,283.8 L957.7,283.0 M951.8,283.4 L952.4,296.0 M966.9,283.3 L971.6,284.8 L973.1,289.2 L970.2,293.9 L965.4,294.2 L961.6,290.8 L962.5,285.3 L966.9,283.3 M967.8,290.5 L974.0,299.9" fill="none" stroke="#1d3a9c" stroke-width="2.55" stroke-linecap="round" stroke-linejoin="round"/>
<path d="M808.0,527.4 L822.5,526.8 M815.2,522.4 L815.7,532.4 M827.3,520.8 L828.3,533.0 M833.4,521.1 L845.3,520.5 L840.6,533.0 M850.1,531.8 L850.8,532.6 M861.5,520.5 L855.6,528.2 L868.3,528.2 M864.9,523.6 L864.9,533.0 M883.7,520.8 L874.1,520.5 L873.1,526.1 L879.2,525.2 L883.3,527.8 L882.7,531.8 L877.5,533.0 L872.1,531.8 M901.9,521.1 L901.9,533.0 M911.5,521.8 L911.8,533.0 M901.9,527.0 L911.8,526.8 M917.6,533.0 L920.0,518.6 M919.1,523.0 L922.5,517.8 L927.1,517.4 L928.5,519.9 L924.2,523.2 L918.6,524.0" fill="none" stroke="#1d3a9c" stroke-width="2.55" stroke-linecap="round" stroke-linejoin="round"/>
<path d="M561.0,605.0 L576.6,604.5 M568.7,600.6 L569.2,609.5 M581.7,599.2 L582.8,610.0 M588.6,601.8 L591.9,599.4 L597.4,599.0 L601.1,601.0 L599.2,604.5 L588.6,609.8 L602.0,609.3 M607.1,608.9 L607.8,609.7 M624.3,601.2 L619.4,599.0 L613.9,600.6 L614.8,604.0 L621.2,604.3 L624.3,601.2 L623.2,610.5 M639.1,599.0 L632.7,601.8 L629.4,606.1 L631.8,609.5 L637.3,610.0 L641.5,608.0 L639.7,605.0 L634.2,604.7 L630.0,606.7 M661.5,599.5 L661.5,610.0 M671.7,600.1 L672.1,610.0 M661.5,604.7 L672.1,604.5 M678.3,610.0 L680.9,597.4 M679.9,601.2 L683.6,596.6 L688.5,596.2 L690.0,598.5 L685.4,601.4 L679.4,602.1" fill="none" stroke="#1d3a9c" stroke-width="2.55" stroke-linecap="round" stroke-linejoin="round"/>
<path d="M326.6,730.9 L341.4,730.2 M333.9,725.7 L334.4,736.1 M357.0,724.0 L347.3,723.7 L346.3,729.6 L352.5,728.6 L356.7,731.2 L356.0,735.4 L350.8,736.7 L345.2,735.4 M362.3,735.4 L363.0,736.3 M378.6,726.3 L373.9,723.7 L368.7,725.7 L369.6,729.6 L375.6,729.9 L378.6,726.3 L377.6,737.4 M384.0,725.0 L390.1,723.7 L394.4,725.7 L393.6,728.6 L388.3,729.9 L393.9,731.2 L395.3,734.4 L390.4,736.7 L384.0,735.4 M413.6,724.4 L413.6,736.7 M423.3,725.0 L423.7,736.7 M413.6,730.5 L423.7,730.2 M429.6,736.7 L432.0,721.8 M431.1,726.3 L434.6,720.8 L439.3,720.5 L440.7,723.1 L436.4,726.6 L430.6,727.3" fill="none" stroke="#1d3a9c" stroke-width="2.55" stroke-linecap="round" stroke-linejoin="round"/>
<path d="M1197.7,210.6 L1213.5,210.0 M1205.5,205.8 L1206.0,215.4 M1217.9,207.0 L1221.3,204.5 L1226.8,204.0 L1230.5,206.2 L1228.7,210.0 L1217.9,215.8 L1231.5,215.3 M1242.2,204.0 L1247.8,205.8 L1248.9,210.0 L1247.0,214.6 L1242.2,216.0 L1237.0,214.3 L1235.5,210.0 L1237.4,205.4 L1242.2,204.0 M1254.1,214.8 L1254.8,215.6 M1266.7,204.0 L1272.3,205.8 L1273.4,210.0 L1271.5,214.6 L1266.7,216.0 L1261.5,214.3 L1260.0,210.0 L1261.9,205.4 L1266.7,204.0 M1292.9,204.6 L1292.9,216.0 M1303.2,205.2 L1303.6,216.0 M1292.9,210.2 L1303.6,210.0 M1309.9,216.0 L1312.5,202.2 M1311.6,206.4 L1315.3,201.4 L1320.3,201.0 L1321.8,203.4 L1317.2,206.6 L1311.0,207.4" fill="none" stroke="#1d3a9c" stroke-width="2.55" stroke-linecap="round" stroke-linejoin="round"/>
<path d="M1092.7,449.0 L1105.8,448.2 M1099.2,443.2 L1099.6,454.8 M1110.1,441.3 L1111.1,455.5 M1115.7,441.7 L1126.5,441.0 L1122.2,455.5 M1130.8,454.1 L1131.4,455.1 M1141.1,441.0 L1135.7,450.0 L1147.3,450.0 M1144.2,444.6 L1144.2,455.5 M1151.0,444.6 L1153.8,441.6 L1158.4,441.0 L1161.5,443.6 L1160.0,448.2 L1151.0,455.2 L1162.3,454.6 M1183.0,442.7 L1178.2,452.6 L1179.9,454.9 L1189.9,454.1 M1194.2,441.0 L1194.2,455.5 M1194.2,441.3 L1200.4,441.3 L1202.5,443.9 L1200.4,447.5 L1194.2,448.0 M1194.2,448.0 L1201.0,448.2 L1203.5,451.9 L1201.0,455.5 L1194.2,455.5 M1207.8,454.1 L1208.4,455.1 M1213.7,455.5 L1213.3,441.3 L1222.3,441.0 M1213.5,448.2 L1220.4,448.0 M1225.7,441.9 L1237.7,441.0 M1231.6,441.4 L1232.2,455.5 M1253.0,441.9 L1265.0,441.0 M1258.9,441.4 L1259.5,455.5 M1274.6,441.3 L1279.5,443.0 L1281.1,448.0 L1278.0,453.2 L1273.1,453.5 L1269.0,449.7 L1270.0,443.6 L1274.6,441.3 M1275.5,449.4 L1282.0,459.9" fill="none" stroke="#1d3a9c" stroke-width="2.55" stroke-linecap="round" stroke-linejoin="round"/>
<path d="M1131.6,970.3 L1149.6,969.7 M1140.5,965.3 L1141.1,975.4 M1154.6,966.5 L1158.4,963.9 L1164.8,963.4 L1169.0,965.7 L1166.9,969.7 L1154.6,975.7 L1170.1,975.2 M1182.1,963.4 L1174.7,971.2 L1190.6,971.2 M1186.3,966.5 L1186.3,976.0 M1196.5,974.7 L1197.3,975.6 M1214.9,964.2 L1208.5,963.4 L1204.3,965.9 L1209.6,969.2 L1216.4,971.7 L1214.9,975.4 L1208.5,976.0 L1204.1,973.5 L1209.6,969.7 L1215.5,966.5 L1214.9,964.2 M1233.5,963.4 L1226.1,966.5 L1222.3,971.6 L1225.0,975.4 L1231.4,976.0 L1236.2,973.7 L1234.1,970.3 L1227.8,970.0 L1222.9,972.2 M1275.5,964.0 L1275.5,976.0 M1287.4,964.7 L1287.8,976.0 M1275.5,970.0 L1287.8,969.7 M1295.0,976.0 L1297.9,961.5 M1296.9,965.9 L1301.1,960.6 L1306.8,960.2 L1308.5,962.8 L1303.2,966.2 L1296.2,966.9" fill="none" stroke="#1d3a9c" stroke-width="2.6" stroke-linecap="round" stroke-linejoin="round"/>
<path d="M1128.7,1001.0 L1146.5,1000.1 M1137.5,994.0 L1138.1,1007.9 M1151.5,995.8 L1155.3,992.1 L1161.5,991.4 L1165.7,994.5 L1163.6,1000.1 L1151.5,1008.5 L1166.8,1007.8 M1171.8,995.8 L1175.5,992.1 L1181.8,991.4 L1186.0,994.5 L1183.9,1000.1 L1171.8,1008.5 L1187.0,1007.8 M1192.9,1007.1 L1193.7,1008.3 M1211.1,991.4 L1203.8,995.8 L1200.0,1002.7 L1202.7,1007.9 L1209.0,1008.8 L1213.8,1005.7 L1211.7,1001.0 L1205.4,1000.4 L1200.6,1003.6 M1242.7,993.5 L1236.2,1005.3 L1238.5,1008.1 L1252.1,1007.1 M1257.9,991.4 L1257.9,1008.8 M1257.9,991.7 L1266.3,991.7 L1269.2,994.9 L1266.3,999.2 L1257.9,999.8 M1257.9,999.8 L1267.1,1000.1 L1270.5,1004.4 L1267.1,1008.8 L1257.9,1008.8 M1276.3,1007.1 L1277.2,1008.3 M1300.4,1008.8 L1300.0,991.7 L1312.1,991.4 M1300.2,1000.1 L1309.6,999.8 M1316.7,992.4 L1333.0,991.4 M1324.6,991.9 L1325.5,1008.8 M1353.7,992.4 L1370.0,991.4 M1361.6,991.9 L1362.5,1008.8 M1383.0,991.7 L1389.7,993.8 L1391.7,999.8 L1387.6,1006.0 L1380.9,1006.4 L1375.4,1001.8 L1376.7,994.5 L1383.0,991.7 M1384.2,1001.5 L1393.0,1014.0" fill="none" stroke="#1d3a9c" stroke-width="2.6" stroke-linecap="round" stroke-linejoin="round"/>
<path d="M55.4,984.2 L59.3,980.7 L65.7,980.0 L69.9,983.1 L67.8,988.5 L55.4,996.7 L71.0,996.0 M76.1,984.2 L79.9,980.7 L86.3,980.0 L90.6,983.1 L88.5,988.5 L76.1,996.7 L91.7,996.0 M97.4,981.7 L104.9,980.0 L110.2,982.5 L109.1,986.5 L102.7,988.2 L109.6,989.9 L111.3,993.9 L105.3,997.0 L97.4,995.3 M132.4,989.5 L145.6,988.5 M151.6,980.3 L152.8,997.0 M173.3,982.0 L166.7,980.0 L160.5,986.0 L160.9,994.5 L166.7,997.0 L173.3,996.1" fill="none" stroke="#1d3a9c" stroke-width="2.6" stroke-linecap="round" stroke-linejoin="round"/>
<polyline points="326.7,276.7 306.4,276.7 306.4,315.9" fill="none" stroke="#1d3a9c" stroke-width="2.8" stroke-linecap="round" stroke-linejoin="round"/>
<polyline points="296.6,310 306.1,315.9 315.7,306.3" fill="none" stroke="#1d3a9c" stroke-width="2.8" stroke-linecap="round" stroke-linejoin="round"/>
<polyline points="306.4,355 306.4,393" fill="none" stroke="#1d3a9c" stroke-width="2.8" stroke-linecap="round" stroke-linejoin="round"/>
<polyline points="297.9,363.8 306.4,355 314.9,364.6" fill="none" stroke="#1d3a9c" stroke-width="2.8" stroke-linecap="round" stroke-linejoin="round"/>
<polyline points="619.6,271.8 619.6,318.2" fill="none" stroke="#1d3a9c" stroke-width="2.8" stroke-linecap="round" stroke-linejoin="round"/>
<polyline points="611.1,310.2 619.6,318.2 628.1,307.8" fill="none" stroke="#1d3a9c" stroke-width="2.8" stroke-linecap="round" stroke-linejoin="round"/>
<polyline points="619.6,374 619.6,409.5" fill="none" stroke="#1d3a9c" stroke-width="2.8" stroke-linecap="round" stroke-linejoin="round"/>
<polyline points="611.1,382.8 619.6,374 628.1,383.6" fill="none" stroke="#1d3a9c" stroke-width="2.8" stroke-linecap="round" stroke-linejoin="round"/>
<polyline points="867.2,304.5 867.2,348.1" fill="none" stroke="#1d3a9c" stroke-width="2.8" stroke-linecap="round" stroke-linejoin="round"/>
<polyline points="858.7,340.1 867.2,348.1 875.7,337.70000000000005" fill="none" stroke="#1d3a9c" stroke-width="2.8" stroke-linecap="round" stroke-linejoin="round"/>
<polyline points="867,459 867,509.5" fill="none" stroke="#1d3a9c" stroke-width="2.8" stroke-linecap="round" stroke-linejoin="round"/>
<polyline points="858.5,467.8 867,459 875.5,468.6" fill="none" stroke="#1d3a9c" stroke-width="2.8" stroke-linecap="round" stroke-linejoin="round"/>
<polyline points="619,462.7 619,507.5" fill="none" stroke="#1d3a9c" stroke-width="2.8" stroke-linecap="round" stroke-linejoin="round"/>
<polyline points="610.5,499.5 619,507.5 627.5,497.1" fill="none" stroke="#1d3a9c" stroke-width="2.8" stroke-linecap="round" stroke-linejoin="round"/>
<polyline points="619,548 619,589" fill="none" stroke="#1d3a9c" stroke-width="2.8" stroke-linecap="round" stroke-linejoin="round"/>
<polyline points="610.5,556.8 619,548 627.5,557.6" fill="none" stroke="#1d3a9c" stroke-width="2.8" stroke-linecap="round" stroke-linejoin="round"/>
<polyline points="306.3,628 306.3,672.3" fill="none" stroke="#1d3a9c" stroke-width="2.8" stroke-linecap="round" stroke-linejoin="round"/>
<polyline points="297.8,664.3 306.3,672.3 314.8,661.9" fill="none" stroke="#1d3a9c" stroke-width="2.8" stroke-linecap="round" stroke-linejoin="round"/>
<polyline points="306.3,691.8 306.3,734.4 318.4,734.4" fill="none" stroke="#1d3a9c" stroke-width="2.8" stroke-linecap="round" stroke-linejoin="round"/>
<polyline points="298.9,702.5 306.3,691.8 314.2,700.7" fill="none" stroke="#1d3a9c" stroke-width="2.8" stroke-linecap="round" stroke-linejoin="round"/>
<polyline points="1188,210.4 1173,210.4 1173,232.3" fill="none" stroke="#1d3a9c" stroke-width="2.8" stroke-linecap="round" stroke-linejoin="round"/>
<polyline points="1165,225 1173,232.3 1181,225" fill="none" stroke="#1d3a9c" stroke-width="2.8" stroke-linecap="round" stroke-linejoin="round"/>
<polyline points="1171,295 1171,311.3" fill="none" stroke="#1d3a9c" stroke-width="2.8" stroke-linecap="round" stroke-linejoin="round"/>
<polyline points="1165,301.6 1171,295 1177,302.2" fill="none" stroke="#1d3a9c" stroke-width="2.8" stroke-linecap="round" stroke-linejoin="round"/>
<polyline points="1169.5,320.9 1169.5,333.2" fill="none" stroke="#1d3a9c" stroke-width="2.8" stroke-linecap="round" stroke-linejoin="round"/>
<polyline points="1164.5,328.2 1169.5,333.2 1174.5,326.7" fill="none" stroke="#1d3a9c" stroke-width="2.8" stroke-linecap="round" stroke-linejoin="round"/>
<polyline points="1169,385 1169,425.9" fill="none" stroke="#1d3a9c" stroke-width="2.8" stroke-linecap="round" stroke-linejoin="round"/>
<polyline points="1160.5,393.8 1169,385 1177.5,394.6" fill="none" stroke="#1d3a9c" stroke-width="2.8" stroke-linecap="round" stroke-linejoin="round"/>
</svg>
</body></html>
